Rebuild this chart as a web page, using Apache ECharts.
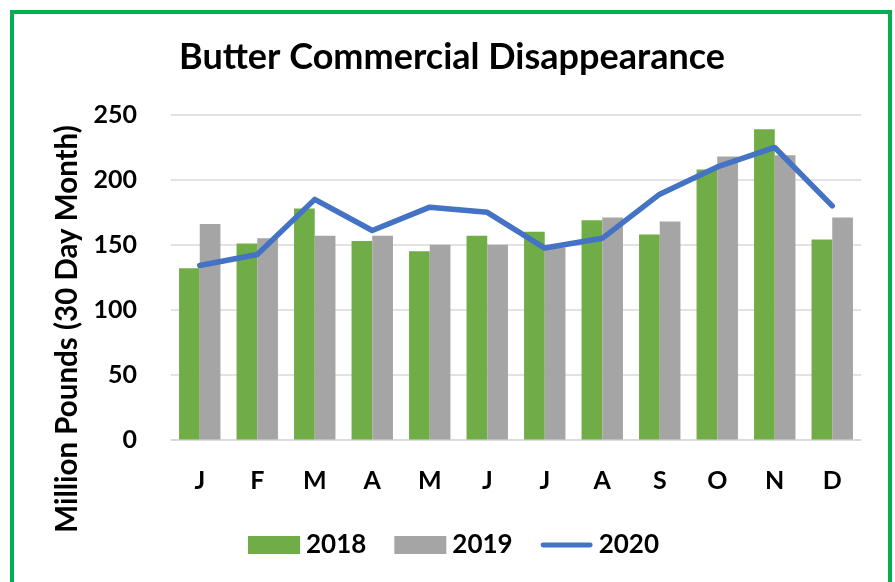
<!DOCTYPE html>
<html>
<head>
<meta charset="utf-8">
<script src="https://cdn.jsdelivr.net/npm/echarts@6/dist/echarts.min.js"></script>
<style>
html,body{margin:0;padding:0;background:#fff;}
#chart{width:895px;height:582px;}
</style>
</head>
<body>
<div id="chart"></div>
<script>
const months = ['J','F','M','A','M','J','J','A','S','O','N','D'];
const s2018 = [132, 151, 178, 153, 145, 157, 160, 169, 158, 208, 239, 154];
const s2019 = [166, 155, 157, 157, 150, 150, 148, 171, 168, 218, 219, 171];
const s2020 = [134, 142.5, 185, 161, 179, 175, 147.5, 155, 189, 210, 225, 180];
const yTicks = [0, 50, 100, 150, 200, 250];

const FONT = 'Lato';
const chart = echarts.init(document.getElementById('chart'), null, {renderer: 'canvas'});
chart.setOption({
  animation: false,
  backgroundColor: '#fff',
  textStyle: {fontFamily: FONT, fontWeight: 'bold', color: '#000'},
  graphic: [
    {type: 'rect', shape: {x: 12, y: 12, width: 878, height: 620}, style: {fill: 'none', stroke: '#00B050', lineWidth: 4}, z: 100},
    {type: 'text', left: 179, top: 39, style: {text: 'Butter Commercial Disappearance', font: 'bold 36px Lato', fill: '#000'}},
    {type: 'text', x: 67, y: 329, rotation: Math.PI / 2, style: {text: 'Million Pounds (30 Day Month)', font: 'bold 29.5px Lato', fill: '#000', align: 'center', verticalAlign: 'middle'}}
  ],
  grid: {left: 171, right: 34, top: 115, bottom: 142.5, containLabel: false},
  legend: {
    left: 243, top: 527,
    itemWidth: 52, itemHeight: 18, itemGap: 28,
    textStyle: {fontFamily: FONT, fontWeight: 'bold', fontSize: 26, color: '#000', padding: [0, 0, 0, 1]},
    data: [
      {name: '2018', icon: 'rect'},
      {name: '2019', icon: 'rect'},
      {name: '2020', icon: 'path://M2,0 L50,0 A2.5,2.5 0 0 1 50,5 L2,5 A2.5,2.5 0 0 1 2,0 Z'}
    ]
  },
  xAxis: {
    type: 'category',
    data: months,
    axisLine: {lineStyle: {color: '#d9d9d9', width: 1.5}},
    axisTick: {show: false},
    axisLabel: {margin: 29, fontSize: 25, fontWeight: 'bold', fontFamily: FONT, color: '#000'}
  },
  yAxis: {
    type: 'value',
    min: yTicks[0], max: yTicks[yTicks.length - 1], interval: 50,
    axisLine: {show: false},
    axisTick: {show: false},
    splitLine: {lineStyle: {color: '#d9d9d9', width: 1.5}},
    axisLabel: {margin: 34, fontSize: 25, fontWeight: 'bold', fontFamily: FONT, color: '#000'}
  },
  series: [
    {name: '2018', type: 'bar', data: s2018, barGap: '0%', barCategoryGap: '28%', itemStyle: {color: '#70AD47'}},
    {name: '2019', type: 'bar', data: s2019, barGap: '0%', barCategoryGap: '28%', itemStyle: {color: '#A5A5A5'}},
    {name: '2020', type: 'line', data: s2020, symbol: 'none', showSymbol: false, z: 5,
     lineStyle: {color: '#4472C4', width: 5.5, cap: 'round', join: 'round'}, itemStyle: {color: '#4472C4'}}
  ]
});
</script>
</body>
</html>
